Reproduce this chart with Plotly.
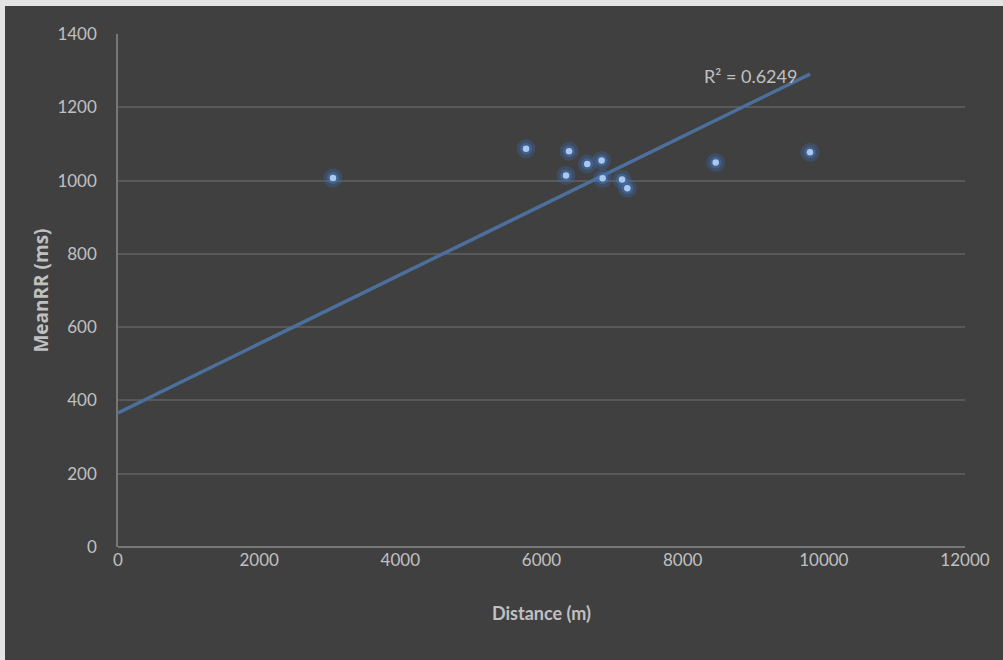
import plotly.graph_objects as go

# Data
distance_m = [3046, 5781, 6390, 6347, 6648, 6852, 6866, 7141, 7216, 8468, 9804]
mean_rr_ms = [1007, 1087, 1080, 1014, 1045, 1055, 1006, 1003, 979, 1049, 1077]

trend_intercept = 366
trend_slope = 0.0943
r_squared_label = "R² = 0.6249"

x_ticks = [0, 2000, 4000, 6000, 8000, 10000, 12000]
y_ticks = [0, 200, 400, 600, 800, 1000, 1200, 1400]

trend_x = [0, max(distance_m)]
trend_y = [trend_intercept + trend_slope * v for v in trend_x]

BG = "#404040"
TXT = "#c0c0c0"
FONT = "Lato"

fig = go.Figure()

fig.add_trace(go.Scatter(
    x=trend_x, y=trend_y, mode="lines",
    line=dict(color="#4c6f9c", width=3.5),
    hoverinfo="skip", showlegend=False))

# glow
fig.add_trace(go.Scatter(
    x=distance_m, y=mean_rr_ms, mode="markers",
    marker=dict(size=19, color="rgba(60,110,180,0.3)", line=dict(width=0)),
    hoverinfo="skip", showlegend=False))
fig.add_trace(go.Scatter(
    x=distance_m, y=mean_rr_ms, mode="markers",
    marker=dict(size=12, color="rgba(70,120,190,0.45)", line=dict(width=0)),
    hoverinfo="skip", showlegend=False))
fig.add_trace(go.Scatter(
    x=distance_m, y=mean_rr_ms, mode="markers",
    marker=dict(size=6.5, color="#a9c8ef", line=dict(width=0)),
    showlegend=False))

fig.add_annotation(
    x=8274, y=1285, xref="x", yref="y", text=r_squared_label,
    showarrow=False, xanchor="left", yanchor="middle",
    font=dict(family=FONT, size=18, color=TXT))

fig.update_layout(
    width=998, height=654,
    margin=dict(l=113, r=38, t=28, b=113),
    paper_bgcolor=BG, plot_bgcolor=BG,
    font=dict(family=FONT, size=17, color=TXT),
    xaxis=dict(
        range=[0, 12000], tickvals=x_ticks, ticktext=[str(v) for v in x_ticks],
        showgrid=False, zeroline=False,
        showline=False, ticks="", ticklabelstandoff=1,
        tickfont=dict(family=FONT, size=17, color=TXT),
        title=dict(text="<b>Distance (m)</b>", standoff=38,
                   font=dict(family=FONT, size=18, color=TXT)),
    ),
    yaxis=dict(
        range=[0, 1400], tickvals=y_ticks, ticktext=[str(v) for v in y_ticks],
        showgrid=True, gridcolor="#595959", gridwidth=1.5,
        zeroline=True, zerolinecolor="#777777", zerolinewidth=1.5,
        showline=True, linecolor="#777777", linewidth=1.5,
        ticks="", ticklabelstandoff=16,
        tickfont=dict(family=FONT, size=17, color=TXT),
        title=dict(text="<b>MeanRR (ms)</b>", standoff=4,
                   font=dict(family="Open Sans", size=19, color=TXT)),
    ),
)

fig.write_html(
    "out.html",
    post_script=(
        "document.body.style.margin='6px 0 0 5px';"
        "document.body.style.background='#e4e4e4';"
        "document.body.style.overflow='hidden';"
    ),
)
